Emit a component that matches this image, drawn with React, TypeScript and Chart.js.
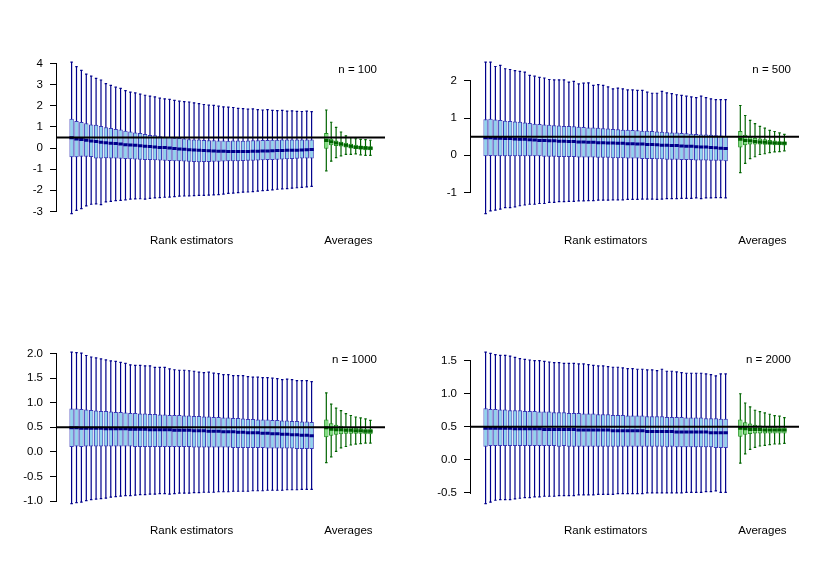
import { useEffect, useRef } from 'react';
import { Chart, registerables } from 'chart.js';

Chart.register(...registerables);

Chart.defaults.font.family = '"Liberation Sans", Arial, sans-serif';
Chart.defaults.font.size = 11.5;
Chart.defaults.color = '#000';

// x positions: 50 rank estimators, gap, 10 averages
const rankPos = Array.from({ length: 50 }, (_, i) => i + 1);
const avgPos = Array.from({ length: 10 }, (_, i) => i + 53);
const groupCenters = [25.5, 57.5];
const groupNames = ['Rank estimators', 'Averages'];
const trueValue = 0.5;

// ---- n = 100 ----
const n100RankHi = [4.07, 3.85, 3.68, 3.5, 3.4, 3.3, 3.22, 3.05, 2.97, 2.88, 2.82, 2.72, 2.65, 2.61, 2.55, 2.5, 2.46, 2.42, 2.36, 2.33, 2.3, 2.26, 2.22, 2.2, 2.18, 2.14, 2.1, 2.06, 2.03, 2.02, 1.98, 1.95, 1.94, 1.92, 1.88, 1.87, 1.84, 1.85, 1.82, 1.8, 1.82, 1.78, 1.77, 1.78, 1.75, 1.76, 1.74, 1.73, 1.75, 1.72];
const n100RankQ3 = [1.39, 1.28, 1.23, 1.17, 1.12, 1.1, 1.04, 0.99, 0.95, 0.9, 0.88, 0.82, 0.78, 0.74, 0.71, 0.66, 0.62, 0.6, 0.56, 0.54, 0.52, 0.49, 0.47, 0.45, 0.42, 0.41, 0.4, 0.38, 0.37, 0.37, 0.36, 0.36, 0.35, 0.36, 0.36, 0.35, 0.36, 0.37, 0.37, 0.38, 0.38, 0.39, 0.39, 0.4, 0.4, 0.41, 0.4, 0.41, 0.41, 0.41];
const n100RankMed = [0.49, 0.43, 0.4, 0.37, 0.33, 0.31, 0.28, 0.25, 0.23, 0.22, 0.19, 0.16, 0.14, 0.13, 0.11, 0.09, 0.07, 0.05, 0.03, 0.02, 0.0, -0.02, -0.04, -0.06, -0.08, -0.09, -0.1, -0.12, -0.13, -0.14, -0.15, -0.15, -0.16, -0.16, -0.16, -0.16, -0.16, -0.15, -0.15, -0.14, -0.14, -0.13, -0.12, -0.12, -0.11, -0.1, -0.1, -0.09, -0.08, -0.07];
const n100RankQ1 = [-0.43, -0.43, -0.41, -0.41, -0.42, -0.5, -0.49, -0.48, -0.49, -0.5, -0.51, -0.52, -0.53, -0.54, -0.55, -0.56, -0.57, -0.58, -0.59, -0.6, -0.61, -0.62, -0.63, -0.64, -0.65, -0.66, -0.67, -0.66, -0.66, -0.65, -0.65, -0.64, -0.63, -0.63, -0.62, -0.61, -0.6, -0.6, -0.59, -0.58, -0.57, -0.56, -0.55, -0.54, -0.53, -0.52, -0.51, -0.5, -0.5, -0.49];
const n100RankLo = [-3.1, -2.95, -2.87, -2.74, -2.66, -2.64, -2.68, -2.55, -2.52, -2.49, -2.48, -2.45, -2.42, -2.41, -2.4, -2.42, -2.38, -2.36, -2.35, -2.33, -2.32, -2.3, -2.28, -2.27, -2.26, -2.25, -2.24, -2.24, -2.23, -2.22, -2.2, -2.18, -2.15, -2.13, -2.11, -2.09, -2.08, -2.06, -2.04, -2.02, -2.0, -1.98, -1.95, -1.93, -1.92, -1.9, -1.88, -1.86, -1.84, -1.81];
const n100AvgHi = [1.8, 1.22, 0.98, 0.76, 0.58, 0.5, 0.44, 0.41, 0.4, 0.37];
const n100AvgQ3 = [0.71, 0.44, 0.36, 0.3, 0.25, 0.2, 0.16, 0.12, 0.1, 0.08];
const n100AvgMed = [0.36, 0.3, 0.24, 0.19, 0.13, 0.08, 0.04, 0.02, 0.0, -0.01];
const n100AvgQ1 = [-0.03, 0.13, 0.1, 0.07, 0.02, -0.02, -0.05, -0.08, -0.1, -0.11];
const n100AvgLo = [-1.08, -0.62, -0.45, -0.37, -0.3, -0.3, -0.28, -0.32, -0.35, -0.35];

// ---- n = 500 ----
const n500RankHi = [2.51, 2.51, 2.39, 2.42, 2.33, 2.31, 2.28, 2.26, 2.24, 2.15, 2.13, 2.1, 2.08, 2.04, 2.03, 2.03, 2.03, 1.97, 1.99, 1.92, 1.94, 1.95, 1.88, 1.9, 1.88, 1.84, 1.79, 1.81, 1.79, 1.76, 1.76, 1.75, 1.75, 1.7, 1.67, 1.67, 1.72, 1.68, 1.66, 1.63, 1.61, 1.59, 1.57, 1.55, 1.59, 1.55, 1.52, 1.5, 1.5, 1.5];
const n500RankQ3 = [0.97, 0.98, 0.96, 0.95, 0.93, 0.92, 0.91, 0.9, 0.88, 0.87, 0.85, 0.84, 0.83, 0.82, 0.81, 0.8, 0.79, 0.79, 0.78, 0.77, 0.76, 0.75, 0.75, 0.74, 0.73, 0.72, 0.71, 0.7, 0.69, 0.69, 0.68, 0.67, 0.66, 0.66, 0.65, 0.64, 0.63, 0.62, 0.61, 0.61, 0.6, 0.59, 0.58, 0.57, 0.56, 0.56, 0.55, 0.54, 0.53, 0.52];
const n500RankMed = [0.47, 0.47, 0.46, 0.46, 0.45, 0.45, 0.44, 0.43, 0.43, 0.42, 0.41, 0.4, 0.4, 0.39, 0.39, 0.38, 0.38, 0.37, 0.37, 0.36, 0.36, 0.35, 0.35, 0.34, 0.34, 0.33, 0.33, 0.32, 0.32, 0.31, 0.31, 0.3, 0.3, 0.29, 0.29, 0.28, 0.27, 0.27, 0.26, 0.26, 0.25, 0.24, 0.24, 0.23, 0.22, 0.22, 0.21, 0.2, 0.19, 0.18];
const n500RankQ1 = [-0.03, -0.02, -0.03, -0.03, -0.03, -0.03, -0.03, -0.03, -0.03, -0.03, -0.03, -0.03, -0.04, -0.04, -0.04, -0.05, -0.05, -0.05, -0.05, -0.06, -0.06, -0.06, -0.06, -0.07, -0.07, -0.07, -0.08, -0.08, -0.08, -0.09, -0.09, -0.09, -0.1, -0.1, -0.1, -0.11, -0.11, -0.12, -0.12, -0.12, -0.13, -0.13, -0.13, -0.14, -0.14, -0.14, -0.15, -0.15, -0.15, -0.16];
const n500RankLo = [-1.57, -1.5, -1.48, -1.45, -1.41, -1.41, -1.39, -1.36, -1.34, -1.32, -1.32, -1.3, -1.3, -1.27, -1.27, -1.25, -1.25, -1.24, -1.24, -1.23, -1.23, -1.22, -1.22, -1.21, -1.21, -1.21, -1.2, -1.2, -1.2, -1.19, -1.19, -1.19, -1.18, -1.18, -1.18, -1.19, -1.18, -1.17, -1.17, -1.17, -1.16, -1.16, -1.16, -1.15, -1.17, -1.15, -1.15, -1.14, -1.14, -1.15];
const n500AvgHi = [1.34, 1.07, 0.94, 0.85, 0.78, 0.73, 0.67, 0.64, 0.6, 0.56];
const n500AvgQ3 = [0.65, 0.55, 0.5, 0.47, 0.45, 0.43, 0.41, 0.4, 0.38, 0.37];
const n500AvgMed = [0.43, 0.4, 0.39, 0.37, 0.36, 0.35, 0.34, 0.33, 0.32, 0.32];
const n500AvgQ1 = [0.21, 0.27, 0.29, 0.29, 0.29, 0.28, 0.28, 0.27, 0.27, 0.26];
const n500AvgLo = [-0.47, -0.22, -0.09, -0.04, 0.02, 0.04, 0.07, 0.09, 0.1, 0.12];

// ---- n = 1000 ----
const n1000RankHi = [2.03, 2.02, 2.01, 1.96, 1.93, 1.91, 1.89, 1.87, 1.85, 1.84, 1.82, 1.8, 1.77, 1.76, 1.76, 1.75, 1.75, 1.72, 1.72, 1.72, 1.69, 1.67, 1.66, 1.66, 1.65, 1.64, 1.62, 1.61, 1.62, 1.6, 1.59, 1.57, 1.57, 1.55, 1.55, 1.55, 1.53, 1.52, 1.52, 1.51, 1.51, 1.5, 1.49, 1.47, 1.48, 1.47, 1.45, 1.45, 1.45, 1.43];
const n1000RankQ3 = [0.88, 0.88, 0.87, 0.86, 0.85, 0.84, 0.83, 0.83, 0.82, 0.81, 0.81, 0.8, 0.79, 0.79, 0.78, 0.78, 0.77, 0.77, 0.76, 0.76, 0.75, 0.75, 0.75, 0.74, 0.74, 0.73, 0.73, 0.72, 0.72, 0.71, 0.71, 0.7, 0.7, 0.69, 0.69, 0.68, 0.67, 0.67, 0.66, 0.66, 0.66, 0.65, 0.65, 0.64, 0.64, 0.63, 0.63, 0.62, 0.62, 0.61];
const n1000RankMed = [0.49, 0.49, 0.48, 0.48, 0.48, 0.48, 0.48, 0.47, 0.47, 0.47, 0.47, 0.47, 0.46, 0.46, 0.46, 0.46, 0.45, 0.45, 0.45, 0.45, 0.45, 0.44, 0.44, 0.44, 0.44, 0.43, 0.43, 0.43, 0.42, 0.42, 0.42, 0.41, 0.41, 0.41, 0.4, 0.4, 0.39, 0.39, 0.39, 0.38, 0.38, 0.37, 0.37, 0.36, 0.36, 0.35, 0.35, 0.34, 0.34, 0.33];
const n1000RankQ1 = [0.1, 0.11, 0.1, 0.11, 0.11, 0.11, 0.11, 0.11, 0.11, 0.11, 0.11, 0.11, 0.11, 0.1, 0.1, 0.1, 0.1, 0.1, 0.1, 0.1, 0.1, 0.1, 0.1, 0.1, 0.1, 0.09, 0.09, 0.09, 0.09, 0.09, 0.09, 0.09, 0.09, 0.08, 0.08, 0.08, 0.08, 0.08, 0.08, 0.08, 0.07, 0.07, 0.07, 0.07, 0.07, 0.07, 0.06, 0.06, 0.06, 0.06];
const n1000RankLo = [-1.05, -1.03, -1.02, -0.99, -0.97, -0.96, -0.95, -0.94, -0.92, -0.91, -0.9, -0.89, -0.89, -0.88, -0.87, -0.87, -0.86, -0.86, -0.85, -0.85, -0.86, -0.85, -0.84, -0.84, -0.84, -0.83, -0.83, -0.82, -0.82, -0.82, -0.81, -0.81, -0.81, -0.8, -0.8, -0.8, -0.8, -0.79, -0.79, -0.79, -0.78, -0.78, -0.78, -0.78, -0.77, -0.77, -0.77, -0.76, -0.76, -0.76];
const n1000AvgHi = [1.2, 0.97, 0.89, 0.84, 0.78, 0.74, 0.71, 0.69, 0.67, 0.64];
const n1000AvgQ3 = [0.66, 0.58, 0.55, 0.53, 0.51, 0.5, 0.49, 0.48, 0.47, 0.47];
const n1000AvgMed = [0.49, 0.46, 0.45, 0.45, 0.44, 0.44, 0.43, 0.43, 0.42, 0.42];
const n1000AvgQ1 = [0.3, 0.33, 0.35, 0.36, 0.37, 0.37, 0.37, 0.37, 0.36, 0.36];
const n1000AvgLo = [-0.22, -0.1, 0.01, 0.08, 0.11, 0.14, 0.16, 0.17, 0.18, 0.18];

// ---- n = 2000 ----
const n2000RankHi = [1.63, 1.61, 1.59, 1.58, 1.58, 1.57, 1.55, 1.53, 1.52, 1.51, 1.5, 1.5, 1.49, 1.48, 1.47, 1.47, 1.46, 1.46, 1.46, 1.45, 1.45, 1.44, 1.43, 1.42, 1.42, 1.41, 1.4, 1.4, 1.39, 1.38, 1.38, 1.37, 1.37, 1.36, 1.36, 1.35, 1.37, 1.34, 1.34, 1.33, 1.32, 1.31, 1.31, 1.31, 1.31, 1.3, 1.29, 1.27, 1.3, 1.3];
const n2000RankQ3 = [0.78, 0.77, 0.77, 0.76, 0.76, 0.75, 0.75, 0.75, 0.74, 0.74, 0.74, 0.73, 0.73, 0.73, 0.72, 0.72, 0.72, 0.71, 0.71, 0.71, 0.7, 0.7, 0.7, 0.69, 0.69, 0.69, 0.68, 0.68, 0.68, 0.67, 0.67, 0.67, 0.67, 0.66, 0.66, 0.66, 0.66, 0.65, 0.65, 0.65, 0.65, 0.64, 0.64, 0.64, 0.64, 0.63, 0.63, 0.63, 0.62, 0.62];
const n2000RankMed = [0.48, 0.48, 0.48, 0.48, 0.48, 0.48, 0.47, 0.47, 0.47, 0.47, 0.47, 0.47, 0.46, 0.46, 0.46, 0.46, 0.46, 0.46, 0.46, 0.45, 0.45, 0.45, 0.45, 0.45, 0.45, 0.45, 0.44, 0.44, 0.44, 0.44, 0.44, 0.44, 0.44, 0.43, 0.43, 0.43, 0.43, 0.43, 0.43, 0.42, 0.42, 0.42, 0.42, 0.42, 0.42, 0.42, 0.41, 0.41, 0.41, 0.41];
const n2000RankQ1 = [0.2, 0.21, 0.21, 0.21, 0.21, 0.21, 0.21, 0.21, 0.21, 0.21, 0.21, 0.21, 0.21, 0.21, 0.21, 0.2, 0.21, 0.2, 0.2, 0.2, 0.2, 0.2, 0.2, 0.2, 0.2, 0.2, 0.2, 0.2, 0.2, 0.2, 0.2, 0.2, 0.2, 0.2, 0.2, 0.2, 0.2, 0.19, 0.2, 0.19, 0.19, 0.19, 0.19, 0.19, 0.19, 0.19, 0.19, 0.18, 0.18, 0.18];
const n2000RankLo = [-0.66, -0.64, -0.61, -0.6, -0.6, -0.6, -0.59, -0.58, -0.57, -0.57, -0.56, -0.56, -0.55, -0.55, -0.55, -0.54, -0.54, -0.54, -0.54, -0.53, -0.53, -0.53, -0.53, -0.52, -0.52, -0.52, -0.52, -0.51, -0.51, -0.51, -0.51, -0.51, -0.51, -0.5, -0.5, -0.5, -0.5, -0.5, -0.5, -0.5, -0.5, -0.49, -0.49, -0.49, -0.49, -0.48, -0.48, -0.47, -0.49, -0.49];
const n2000AvgHi = [1.0, 0.86, 0.8, 0.75, 0.73, 0.71, 0.69, 0.67, 0.66, 0.64];
const n2000AvgQ3 = [0.61, 0.57, 0.55, 0.53, 0.52, 0.51, 0.5, 0.5, 0.49, 0.49];
const n2000AvgMed = [0.48, 0.47, 0.46, 0.46, 0.46, 0.45, 0.45, 0.45, 0.45, 0.45];
const n2000AvgQ1 = [0.35, 0.38, 0.39, 0.4, 0.4, 0.4, 0.4, 0.4, 0.4, 0.4];
const n2000AvgLo = [-0.05, 0.09, 0.16, 0.19, 0.21, 0.22, 0.23, 0.24, 0.24, 0.25];

// y tick values per panel
const n100Ticks = [-3, -2, -1, 0, 1, 2, 3, 4];
const n500Ticks = [-1, 0, 1, 2];
const n1000Ticks = [-1, -0.5, 0, 0.5, 1, 1.5, 2];
const n2000Ticks = [-0.5, 0, 0.5, 1, 1.5];

interface Stats { lo: number[]; q1: number[]; med: number[]; q3: number[]; hi: number[] }
interface Panel { label: string; rank: Stats; avg: Stats; ticks: number[]; digits: number }

const panels: Panel[] = [
  { label: 'n = 100', rank: { lo: n100RankLo, q1: n100RankQ1, med: n100RankMed, q3: n100RankQ3, hi: n100RankHi }, avg: { lo: n100AvgLo, q1: n100AvgQ1, med: n100AvgMed, q3: n100AvgQ3, hi: n100AvgHi }, ticks: n100Ticks, digits: 0 },
  { label: 'n = 500', rank: { lo: n500RankLo, q1: n500RankQ1, med: n500RankMed, q3: n500RankQ3, hi: n500RankHi }, avg: { lo: n500AvgLo, q1: n500AvgQ1, med: n500AvgMed, q3: n500AvgQ3, hi: n500AvgHi }, ticks: n500Ticks, digits: 0 },
  { label: 'n = 1000', rank: { lo: n1000RankLo, q1: n1000RankQ1, med: n1000RankMed, q3: n1000RankQ3, hi: n1000RankHi }, avg: { lo: n1000AvgLo, q1: n1000AvgQ1, med: n1000AvgMed, q3: n1000AvgQ3, hi: n1000AvgHi }, ticks: n1000Ticks, digits: 1 },
  { label: 'n = 2000', rank: { lo: n2000RankLo, q1: n2000RankQ1, med: n2000RankMed, q3: n2000RankQ3, hi: n2000RankHi }, avg: { lo: n2000AvgLo, q1: n2000AvgQ1, med: n2000AvgMed, q3: n2000AvgQ3, hi: n2000AvgHi }, ticks: n2000Ticks, digits: 1 },
];

const BLUE = { line: '#00008b', edge: '#3a3ab8', fill: '#8fd4ee' };
const GREEN = { line: '#006400', edge: '#1f8f1f', fill: '#7fe07f' };

const X_MIN = -1.98;
const X_MAX = 64.98;

function unitPx(chart: any) {
  const xs = chart.scales.x;
  return xs.getPixelForValue(1) - xs.getPixelForValue(0);
}

function groupDatasets(pos: number[], s: Stats, col: { line: string; edge: string; fill: string }) {
  return [
    {
      type: 'bar',
      data: pos.map((x, i) => ({ x, y: [s.lo[i], s.hi[i]] })),
      backgroundColor: col.line,
      borderWidth: 0,
      grouped: false,
      categoryPercentage: 1,
      barPercentage: 1,
      maxBarThickness: 1.2,
      inflateAmount: 0,
      order: 5,
    },
    {
      type: 'bar',
      data: pos.map((x, i) => ({ x, y: [s.q1[i], s.q3[i]] })),
      backgroundColor: col.fill,
      borderColor: col.edge,
      borderWidth: 1,
      borderSkipped: false,
      grouped: false,
      categoryPercentage: 1,
      barPercentage: 0.9,
      inflateAmount: 0,
      order: 4,
    },
    {
      type: 'scatter',
      data: pos.map((x, i) => ({ x, y: s.med[i] })),
      pointStyle: 'line',
      pointRadius: (ctx: any) => unitPx(ctx.chart) * 0.45,
      pointBorderWidth: 3,
      pointBorderColor: col.line,
      order: 3,
    },
    {
      type: 'scatter',
      data: [
        ...pos.map((x, i) => ({ x, y: s.hi[i] })),
        ...pos.map((x, i) => ({ x, y: s.lo[i] })),
      ],
      pointStyle: 'line',
      pointRadius: (ctx: any) => unitPx(ctx.chart) * 0.25,
      pointBorderWidth: 1.2,
      pointBorderColor: col.line,
      order: 2,
    },
  ];
}

function BoxPanel({ panel }: { panel: Panel }) {
  const canvasRef = useRef<HTMLCanvasElement | null>(null);

  useEffect(() => {
    if (!canvasRef.current) return;
    const ctx = canvasRef.current.getContext('2d');
    if (!ctx) return;

    const all = [...panel.rank.lo, ...panel.rank.hi, ...panel.avg.lo, ...panel.avg.hi];
    const lo = Math.min(...all);
    const hi = Math.max(...all);
    const pad = (hi - lo) * 0.04;

    const yAxisLine = {
      id: 'yAxisLine',
      afterDraw(chart: any) {
        const ys = chart.scales.y;
        const c = chart.ctx;
        const x = ys.right - 0.5;
        c.save();
        c.strokeStyle = '#000';
        c.lineWidth = 1;
        c.beginPath();
        c.moveTo(x, Math.round(ys.getPixelForValue(panel.ticks[0])) + 1);
        c.lineTo(x, Math.round(ys.getPixelForValue(panel.ticks[panel.ticks.length - 1])));
        c.stroke();
        c.font = '11.5px "Liberation Sans", Arial, sans-serif';
        c.fillStyle = '#000';
        c.textAlign = 'right';
        c.textBaseline = 'middle';
        c.fillText(panel.label, chart.chartArea.right - 8, chart.chartArea.top + 14);
        c.restore();
      },
    };

    const chart = new Chart(ctx, {
      type: 'bar',
      data: {
        datasets: [
          ...groupDatasets(rankPos, panel.rank, BLUE),
          ...groupDatasets(avgPos, panel.avg, GREEN),
          {
            type: 'line',
            data: [
              { x: X_MIN, y: trueValue },
              { x: X_MAX, y: trueValue },
            ],
            borderColor: '#000',
            borderWidth: 2,
            pointRadius: 0,
            order: 1,
          },
        ] as any,
      },
      options: {
        responsive: false,
        animation: false,
        events: [],
        layout: { padding: { top: 56, right: 29, left: 0, bottom: 0 } },
        plugins: { legend: { display: false }, tooltip: { enabled: false } },
        scales: {
          x: {
            type: 'linear',
            min: X_MIN,
            max: X_MAX,
            offset: false,
            afterBuildTicks: (scale: any) => {
              scale.ticks = groupCenters.map((v) => ({ value: v }));
            },
            afterFit: (scale: any) => {
              scale.height = 70.4;
            },
            ticks: {
              autoSkip: false,
              maxRotation: 0,
              padding: 14,
              callback: (_v: any, i: number) => groupNames[i],
            },
            grid: { display: false, drawTicks: false, offset: false },
            border: { display: false },
          },
          y: {
            type: 'linear',
            min: lo - pad,
            max: hi + pad,
            afterBuildTicks: (scale: any) => {
              scale.ticks = panel.ticks.map((v) => ({ value: v }));
            },
            afterFit: (scale: any) => {
              scale.width = 57;
            },
            ticks: {
              padding: 7,
              callback: (v: any) => Number(v).toFixed(panel.digits),
            },
            grid: {
              drawOnChartArea: false,
              drawTicks: true,
              tickLength: 7,
              color: '#000',
              lineWidth: 1,
            },
            border: { display: false },
          },
        },
      },
      plugins: [yAxisLine],
    } as any);

    return () => {
      chart.destroy();
    };
  }, [panel]);

  return <canvas ref={canvasRef} width={414} height={290} style={{ display: 'block' }}></canvas>;
}

export default function App() {
  return (
    <div
      style={{
        position: 'absolute',
        left: 0,
        top: 0,
        width: 828,
        height: 580,
        background: '#fff',
        display: 'grid',
        gridTemplateColumns: '414px 414px',
        gridTemplateRows: '290px 290px',
      }}
    >
      {panels.map((p) => (
        <BoxPanel key={p.label} panel={p} />
      ))}
    </div>
  );
}
